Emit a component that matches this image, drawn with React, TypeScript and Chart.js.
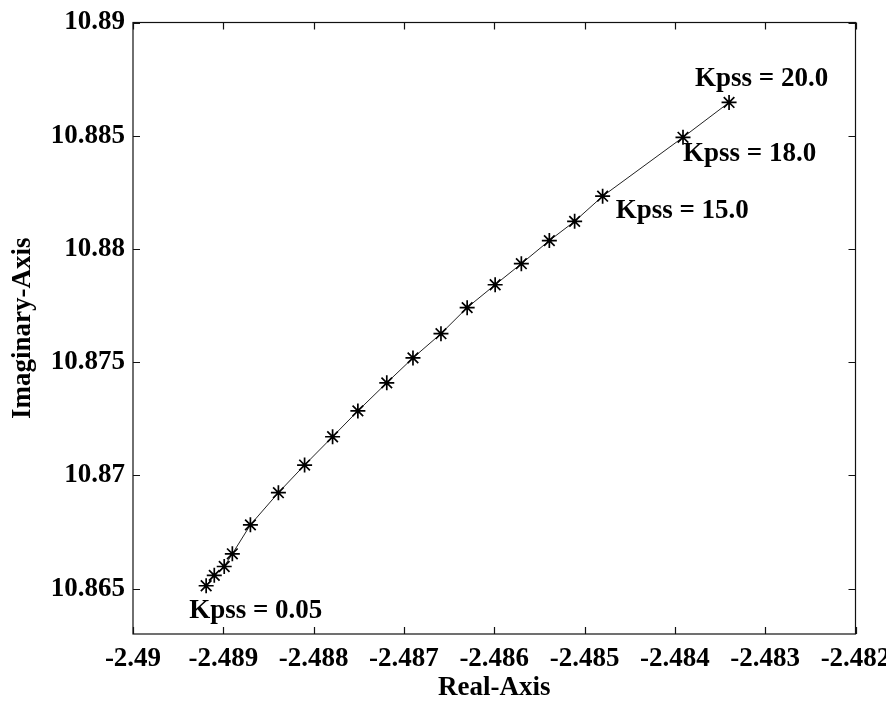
import React, { useEffect, useRef } from "react";
import { Chart, registerables } from "chart.js";

Chart.register(...registerables);

// Root-locus points (Real, Imaginary) for increasing Kpss
const realValues = [
  -2.48919, -2.4891, -2.48899, -2.4889, -2.4887, -2.48839, -2.4881, -2.48779,
  -2.48751, -2.48719, -2.4869, -2.48659, -2.4863, -2.48599, -2.4857, -2.48539,
  -2.48511, -2.4848, -2.48391, -2.4834,
];
const imagValues = [
  10.86513, 10.86559, 10.86598, 10.86654, 10.86782, 10.86924, 10.87046, 10.87171,
  10.87285, 10.87409, 10.87519, 10.87626, 10.87741, 10.87842, 10.87935, 10.88037,
  10.88122, 10.88233, 10.88493, 10.88647,
];
const xTickValues = [-2.49, -2.489, -2.488, -2.487, -2.486, -2.485, -2.484, -2.483, -2.482];
const yTickValues = [10.865, 10.87, 10.875, 10.88, 10.885, 10.89];
const labelIndices = [0, 17, 18, 19];
const labelTexts = ["Kpss = 0.05", "Kpss = 15.0", "Kpss = 18.0", "Kpss = 20.0"];

// styling: pixel offsets for the text labels (relative to their point)
const labelOffsets = [
  { dx: -17, dy: 32 },
  { dx: 13, dy: 22 },
  { dx: 0, dy: 24 },
  { dx: -34, dy: -16 },
];

const FONT = "'Liberation Serif', 'Times New Roman', serif";
const FSIZE = 27;

const fmt = (v: number) => String(Number(Number(v).toFixed(4)));

const framePlugin = {
  id: "frame",
  afterDraw(chart: any) {
    const { ctx, chartArea: a, scales } = chart;
    const x = scales.x;
    const y = scales.y;
    const tl = 7;
    ctx.save();
    ctx.strokeStyle = "#111";
    ctx.lineWidth = 1.2;
    ctx.strokeRect(a.left, a.top, a.right - a.left, a.bottom - a.top);
    ctx.beginPath();
    x.ticks.forEach((t: any) => {
      const px = Math.round(x.getPixelForValue(t.value)) + 0.5;
      ctx.moveTo(px, a.bottom);
      ctx.lineTo(px, a.bottom - tl);
      ctx.moveTo(px, a.top);
      ctx.lineTo(px, a.top + tl);
    });
    y.ticks.forEach((t: any) => {
      const py = Math.round(y.getPixelForValue(t.value)) + 0.5;
      ctx.moveTo(a.left, py);
      ctx.lineTo(a.left + tl, py);
      ctx.moveTo(a.right, py);
      ctx.lineTo(a.right - tl, py);
    });
    ctx.stroke();

    ctx.fillStyle = "#000";
    ctx.font = `bold ${FSIZE}px ${FONT}`;
    ctx.textAlign = "left";
    ctx.textBaseline = "alphabetic";
    labelIndices.forEach((idx, i) => {
      const px = x.getPixelForValue(realValues[idx]);
      const py = y.getPixelForValue(imagValues[idx]);
      ctx.fillText(labelTexts[i], px + labelOffsets[i].dx, py + labelOffsets[i].dy);
    });
    ctx.restore();
  },
};

export default function App() {
  const ref = useRef<HTMLCanvasElement | null>(null);
  useEffect(() => {
    document.body.style.margin = "0";
    const canvas = ref.current;
    if (!canvas) return;
    const tickFont = { family: FONT, size: FSIZE, weight: "bold" as const };
    const chart = new Chart(canvas, {
      type: "scatter",
      data: {
        datasets: [
          {
            data: realValues.map((r, i) => ({ x: r, y: imagValues[i] })),
            showLine: true,
            borderColor: "#222",
            borderWidth: 1,
            pointStyle: "star",
            pointRadius: 7.5,
            pointBorderWidth: 1.7,
            pointBorderColor: "#000",
            pointBackgroundColor: "#000",
          },
        ],
      },
      plugins: [framePlugin],
      options: {
        responsive: false,
        animation: false,
        devicePixelRatio: 1,
        layout: { padding: { top: 22.5, right: 30.5, left: 0, bottom: 0 } },
        plugins: { legend: { display: false }, tooltip: { enabled: false } },
        scales: {
          x: {
            type: "linear",
            min: -2.49,
            max: -2.482,
            afterBuildTicks: (s: any) => {
              s.ticks = xTickValues.map((v) => ({ value: v }));
            },
            afterFit: (s: any) => {
              s.height = 68;
              s.paddingLeft = 0;
              s.paddingRight = 0;
            },
            grid: { display: false, drawTicks: false },
            border: { display: false },
            ticks: {
              font: tickFont,
              color: "#000",
              padding: 9,
              maxRotation: 0,
              autoSkip: false,
              callback: (v: any) => fmt(v),
            },
            title: {
              display: true,
              text: "Real-Axis",
              font: tickFont,
              color: "#000",
              padding: { top: 0, bottom: -2 },
            },
          },
          y: {
            type: "linear",
            min: 10.863,
            max: 10.89,
            afterBuildTicks: (s: any) => {
              s.ticks = yTickValues.map((v) => ({ value: v }));
            },
            afterFit: (s: any) => {
              s.width = 133;
              s.paddingTop = 0;
              s.paddingBottom = 0;
            },
            grid: { display: false, drawTicks: false },
            border: { display: false },
            ticks: {
              font: tickFont,
              color: "#000",
              padding: 8,
              autoSkip: false,
              callback: (v: any) => fmt(v),
            },
            title: {
              display: true,
              text: "Imaginary-Axis",
              font: tickFont,
              color: "#000",
              padding: { top: 7, bottom: 0 },
            },
          },
        },
      },
    });
    return () => chart.destroy();
  }, []);
  return (
    <div style={{ width: 886, height: 702, background: "#fff" }}>
      <canvas ref={ref} width={886} height={702} style={{ display: "block" }} />
    </div>
  );
}
